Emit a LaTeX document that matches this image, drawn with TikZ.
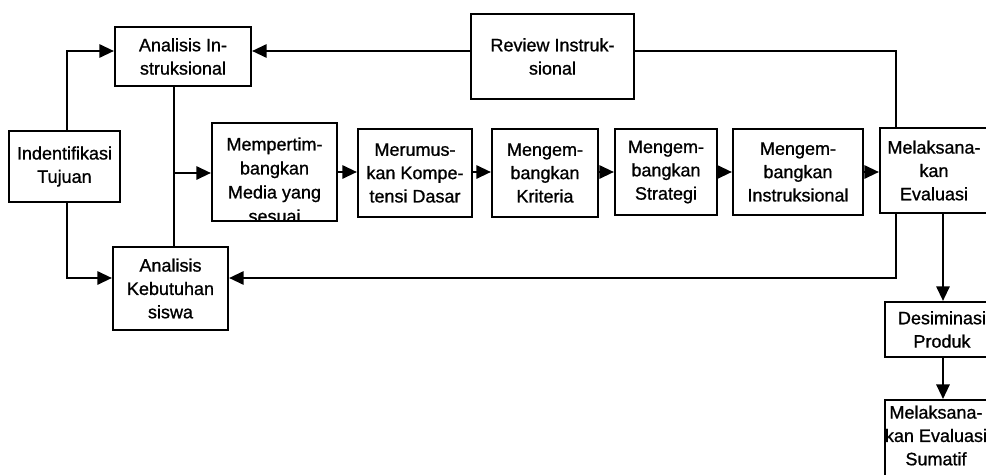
\documentclass[tikz,border=0pt]{standalone}
\usepackage{fontspec}
\setmainfont{Liberation Sans}[FakeBold=0.9]
\usetikzlibrary{arrows.meta}
\begin{document}
\begin{tikzpicture}[x=0.75pt,y=-0.75pt,
  bx/.style 2 args={draw,line width=1.6pt,minimum width=#1*0.75pt,minimum height=#2*0.75pt,inner sep=0pt,align=center,font=\fontsize{13.5}{17.5}\selectfont},
  txt/.style={inner sep=0pt,align=center,font=\fontsize{13.5}{17.5}\selectfont},
  ln/.style={line width=1.6pt},
  arr/.style={ln,-{Triangle[length=11pt,width=10pt]}}]
\clip (0,0) rectangle (986,475);
\fill[white] (0,0) rectangle (986,475);
% boxes
\node[bx={111}{71}] (ident) at (64.5,166.5) {Indentifikasi\\Tujuan};
\node[bx={136}{59}] (ai) at (183,56.5) {Analisis In-\\struksional};
\node[bx={115}{83}] (ak) at (170.5,288.5) {Analisis\\Kebutuhan\\siswa};
\begin{scope}
  \clip (212,123) rectangle (337,221);
  \node[txt,font=\fontsize{13.5}{18}\selectfont] (mmt) at (274.5,180) {Mempertim-\\bangkan\\Media yang\\sesuai};
\end{scope}
\node[bx={125}{98}] (mm) at (274.5,172) {};
\node[bx={114}{88}] (mk) at (415,173) {Merumus-\\kan Kompe-\\tensi Dasar};
\node[bx={106}{88}] (kr) at (545,173) {Mengem-\\bangkan\\Kriteria};
\node[bx={102}{86}] (st) at (666,172) {Mengem-\\bangkan\\Strategi};
\node[bx={130}{86}] (inn) at (798,172) {Mengem-\\bangkan\\Instruksional};
\node[bx={108}{85}] (me) at (934,170.5) {Melaksana-\\kan\\Evaluasi};
\node[bx={163}{85}] (rv) at (552.5,56.5) {Review Instruk-\\sional};
\node[bx={114}{55}] (ds) at (942,329.5) {Desiminasi\\Produk};
\node[bx={104}{100},anchor=north] (sm) at (937,399) {};
\node[txt] (smt) at (936,435.5) {Melaksana-\\kan Evaluasi\\Sumatif};
% helper coordinates
\coordinate (xl) at (67,0);
\coordinate (ya) at (0,51);
\coordinate (yk) at (0,278);
\coordinate (xv) at (174,0);
\coordinate (yb) at (0,173);
\coordinate (yh) at (0,172);
\coordinate (xr) at (896,0);
\coordinate (xd) at (943,0);
\coordinate (br) at (174,173);
% connectors
\draw[arr] (ident.north -| xl) |- (ai.west |- ya);
\draw[arr] (ident.south -| xl) |- (ak.west |- yk);
\draw[ln] (ai.south -| xv) -- (ak.north -| xv);
\draw[arr] (br) -- (mm.west |- yb);
\draw[arr] (mm.east |- yh) -- (mk.west |- yh);
\draw[arr] (mk.east |- yh) -- (kr.west |- yh);
\draw[arr] (kr.east |- yh) -- (st.west |- yh);
\draw[arr] (st.east |- yh) -- (inn.west |- yh);
\draw[arr] (inn.east |- yh) -- (me.west |- yh);
\draw[arr] (rv.west |- ya) -- (ai.east |- ya);
\draw[ln] (rv.east |- ya) -| (me.north -| xr);
\draw[arr] (me.south -| xr) |- (ak.east |- yk);
\draw[arr] (me.south -| xd) -- (ds.north -| xd);
\draw[arr] (ds.south -| xd) -- (sm.north -| xd);
\end{tikzpicture}
\end{document}
